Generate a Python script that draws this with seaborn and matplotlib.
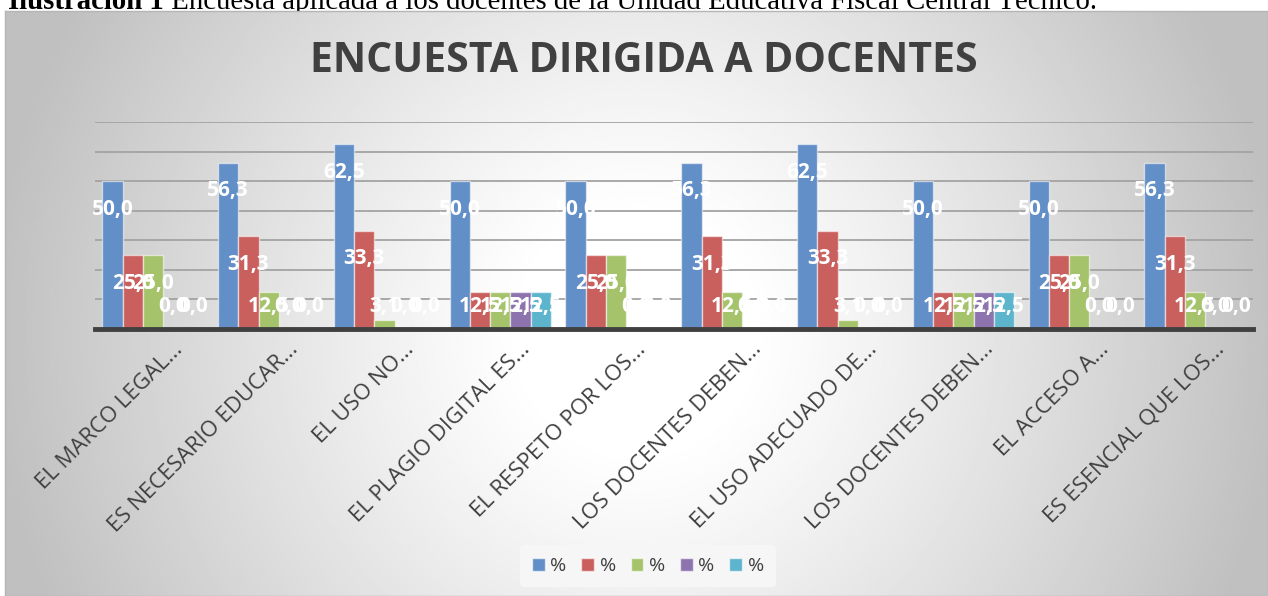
import numpy as np
import pandas as pd
import seaborn as sns
import matplotlib.pyplot as plt
from matplotlib.patches import Patch
from matplotlib.transforms import ScaledTranslation

# Datos de la encuesta (porcentajes)
preguntas = ["EL MARCO LEGAL...", "ES NECESARIO EDUCAR...", "EL USO NO...",
             "EL PLAGIO DIGITAL ES...", "EL RESPETO POR LOS...", "LOS DOCENTES DEBEN...",
             "EL USO ADECUADO DE...", "LOS DOCENTES DEBEN...", "EL ACCESO A...",
             "ES ESENCIAL QUE LOS..."]
serie1 = [50.0, 56.3, 62.5, 50.0, 50.0, 56.3, 62.5, 50.0, 50.0, 56.3]
serie2 = [25.0, 31.3, 33.3, 12.5, 25.0, 31.3, 33.3, 12.5, 25.0, 31.3]
serie3 = [25.0, 12.5, 3.1, 12.5, 25.0, 12.5, 3.1, 12.5, 25.0, 12.5]
serie4 = [0.0, 0.0, 0.0, 12.5, 0.0, 0.0, 0.0, 12.5, 0.0, 0.0]
serie5 = [0.0, 0.0, 0.0, 12.5, 0.0, 0.0, 0.0, 12.5, 0.0, 0.0]
nombres_series = ["%", "%", "%", "%", "%"]
titulo = "ENCUESTA DIRIGIDA A DOCENTES"
pie_negrita = "Ilustración 1"
pie_texto = " Encuesta aplicada a los docentes de la Unidad Educativa Fiscal Central Técnico."

colores = ["#628fc7", "#c9605e", "#a5c36b", "#8e74ae", "#5db5cd"]

# Tabla larga para seaborn
series = [serie1, serie2, serie3, serie4, serie5]
filas = []
for s, valores in enumerate(series):
    for i, v in enumerate(valores):
        filas.append({"pregunta": i, "serie": "s%d" % s, "valor": v})
df = pd.DataFrame(filas)

sns.set_theme(style="white")
plt.rcParams["font.family"] = ["Open Sans", "DejaVu Sans"]

W, H = 1268, 596
fig = plt.figure(figsize=(W / 100, H / 100), dpi=100)

# Fondo con degradado radial
bg = fig.add_axes([5 / W, 0, (W - 5) / W, (H - 11) / H], zorder=1)
yy, xx = np.mgrid[0:1:300j, 0:1:600j]
r = np.sqrt(((xx - 0.5) / 0.5) ** 2 + (((yy - 0.55) / 0.55) * 0.5) ** 2)
intens = 1 - 0.25 * np.clip((r - 0.18) / 0.85, 0, 1) ** 1.1
bg.imshow(intens, cmap="gray", vmin=0, vmax=1, aspect="auto", extent=(0, 1, 0, 1))
bg.set_xticks([])
bg.set_yticks([])
for sp in bg.spines.values():
    sp.set_color("#b5b5b5")
    sp.set_linewidth(1)

# Pie de ilustración (cortado por arriba, como en la captura)
t1 = fig.text(8 / W, 1 - 9 / H, pie_negrita, family="Liberation Serif", weight="bold",
              fontsize=20.7, va="baseline", color="black", zorder=0)
fig.canvas.draw()
bb = t1.get_window_extent()
fig.text(bb.x1 / W, 1 - 9 / H, pie_texto, family="Liberation Serif", fontsize=20.7,
         va="baseline", color="black", zorder=0)

# Gráfico de barras
ax = fig.add_axes([95 / W, (H - 329) / H, (1253 - 95) / W, (329 - 122) / H], zorder=2)
ax.set_facecolor("none")
sns.barplot(data=df, x="pregunta", y="valor", hue="serie", palette=colores,
            saturation=1, width=0.875, gap=0, edgecolor=(1, 1, 1, 0.55), linewidth=1,
            errorbar=None, legend=False, ax=ax)

ax.set_ylim(0, 70)
ax.set_yticks(range(0, 80, 10))
ax.set_yticklabels([])
ax.yaxis.grid(True, color="#a3a3a3", linewidth=1.3)
ax.set_axisbelow(True)
ax.tick_params(length=0)
for lado in ["top", "right", "left"]:
    ax.spines[lado].set_visible(False)
ax.spines["bottom"].set_color("#404040")
ax.spines["bottom"].set_linewidth(3.5)
ax.set_xlabel("")
ax.set_ylabel("")

ax.set_xticks(range(len(preguntas)))
ax.set_xticklabels(preguntas, rotation=45, ha="right", va="top", rotation_mode="anchor",
                   fontsize=16, color="#404040")
desplaz = ScaledTranslation(19 / 100, -5 / 100, fig.dpi_scale_trans)
for lab in ax.get_xticklabels():
    lab.set_transform(lab.get_transform() + desplaz)

# Etiquetas de datos
for cont in ax.containers:
    for barra in cont:
        h = barra.get_height()
        x = barra.get_x() + barra.get_width() / 2
        ax.text(x, max(h - 9.5, 7.6), f"{h:.1f}".replace(".", ","), ha="center", va="center",
                color="white", fontsize=15, weight="bold", zorder=5)

# Título
fig.text(644 / W, 1 - 61 / H, titulo, ha="center", va="center", fontsize=29.5,
         weight="bold", color="#404040", zorder=3)

# Leyenda
handles = [Patch(facecolor=c, edgecolor=(1, 1, 1, 0.6), linewidth=1) for c in colores]
leg = ax.legend(handles, nombres_series, loc="center", bbox_to_anchor=(648 / W, 1 - 566 / H),
                bbox_transform=fig.transFigure, ncol=5, frameon=True, facecolor="#f6f6f6",
                edgecolor="none", framealpha=1, fontsize=14, handlelength=0.65,
                handleheight=0.65, handletextpad=0.3, columnspacing=0.75, borderpad=0.6)
for t in leg.get_texts():
    t.set_color("#404040")

plt.savefig("out.png", dpi=100)
